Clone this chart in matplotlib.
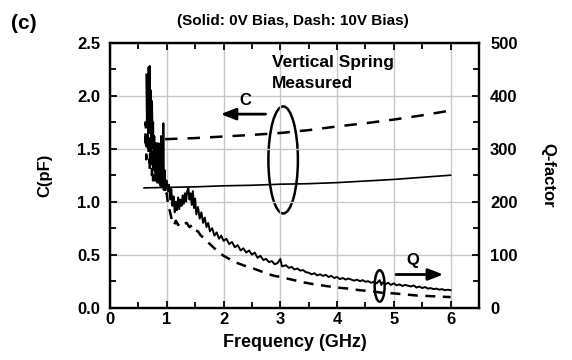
import numpy as np
import matplotlib.pyplot as plt
from matplotlib.patches import Ellipse

plt.rcParams['font.family'] = ['Liberation Sans', 'DejaVu Sans']
plt.rcParams['font.weight'] = 'bold'
plt.rcParams['axes.labelweight'] = 'bold'

# capacitance (left axis, pF)
freq_c0 = [0.6, 1.0, 1.5, 2.0, 2.5, 3.0, 3.5, 4.0, 4.5, 5.0, 5.5, 6.0]
c_0v = [1.13, 1.135, 1.14, 1.15, 1.155, 1.165, 1.17, 1.18, 1.195, 1.21, 1.23, 1.25]
freq_c10 = [0.97, 1.5, 2.0, 2.5, 3.0, 3.5, 4.0, 4.5, 5.0, 5.5, 6.0]
c_10v = [1.59, 1.60, 1.615, 1.63, 1.648, 1.675, 1.71, 1.74, 1.775, 1.815, 1.86]

# Q-factor (right axis)
freq_q0 = [0.64, 0.65, 0.66, 0.67, 0.68, 0.69, 0.70, 0.71, 0.72, 0.73,
           0.74, 0.75, 0.76, 0.77, 0.78, 0.79, 0.80, 0.81, 0.82, 0.83,
           0.84, 0.85, 0.86, 0.87, 0.88, 0.89, 0.90, 0.91, 0.92, 0.93,
           0.94, 0.95, 0.96, 0.98, 1.00, 1.02, 1.04, 1.06, 1.08, 1.10,
           1.12, 1.14, 1.16, 1.18, 1.20, 1.22, 1.24, 1.26, 1.28, 1.30,
           1.32, 1.34, 1.36, 1.38, 1.40, 1.42, 1.44, 1.46, 1.48, 1.50,
           1.52, 1.55, 1.58, 1.61, 1.64, 1.67, 1.70, 1.73, 1.76, 1.80,
           1.84, 1.88, 1.92, 1.96, 2.00, 2.05, 2.10, 2.15, 2.20, 2.25,
           2.30, 2.35, 2.40, 2.45, 2.50, 2.55, 2.60, 2.65, 2.70, 2.75,
           2.80, 2.85, 2.90, 2.95, 3.00, 3.03, 3.10, 3.15, 3.20, 3.25,
           3.30, 3.35, 3.40, 3.45, 3.50, 3.55, 3.60, 3.65, 3.70, 3.75,
           3.80, 3.85, 3.90, 3.95, 4.00, 4.05, 4.10, 4.15, 4.20, 4.30,
           4.35, 4.40, 4.45, 4.50, 4.55, 4.60, 4.65, 4.70, 4.75, 4.78,
           4.80, 4.85, 4.90, 4.95, 5.00, 5.05, 5.10, 5.15, 5.20, 5.30,
           5.35, 5.40, 5.45, 5.50, 5.55, 5.60, 5.65, 5.70, 5.75, 5.80,
           5.85, 5.90, 5.95, 6.00]
q_0v = [440, 350, 436, 360, 454, 340, 456, 370, 410, 310,
        390, 320, 350, 260, 324, 280, 310, 240, 284, 236,
        300, 250, 310, 240, 296, 230, 324, 240, 290, 228,
        348, 230, 260, 224, 240, 220, 232, 204, 224, 192,
        210, 180, 200, 184, 208, 186, 204, 192, 212, 196,
        216, 200, 220, 226, 204, 216, 194, 220, 188, 206,
        176, 190, 168, 180, 160, 170, 152, 160, 144, 150,
        136, 142, 130, 136, 126, 130, 120, 124, 114, 118,
        108, 112, 104, 108, 100, 104, 94, 98, 90, 92,
        86, 88, 82, 84, 92, 78, 80, 75, 77, 72,
        74, 70, 71, 67, 66, 63, 65, 61, 63, 60,
        62, 58, 60, 56, 58, 54, 56, 53, 55, 51,
        53, 50, 52, 49, 50, 47, 49, 46, 52, 43,
        48, 44, 47, 43, 46, 42, 44, 41, 43, 40,
        42, 38, 40, 37, 39, 36, 37, 35, 36, 34,
        35, 33, 34, 33]

freq_q10 = [0.62, 0.63, 0.64, 0.65, 0.66, 0.67, 0.68, 0.69, 0.70, 0.71,
            0.72, 0.73, 0.74, 0.75, 0.76, 0.77, 0.78, 0.79, 0.80, 0.81,
            0.82, 0.83, 0.84, 0.85, 0.86, 0.87, 0.88, 0.89, 0.90, 0.92,
            0.94, 0.96, 0.98, 1.00, 1.02, 1.05, 1.08, 1.10, 1.13, 1.16,
            1.20, 1.25, 1.30, 1.35, 1.40, 1.45, 1.50, 1.55, 1.60, 1.65,
            1.70, 1.80, 1.90, 2.00, 2.10, 2.20, 2.30, 2.40, 2.50, 2.60,
            2.70, 2.80, 2.90, 3.00, 3.20, 3.40, 3.60, 3.80, 4.00, 4.20,
            4.40, 4.60, 4.80, 5.00, 5.20, 5.40, 5.60, 5.80, 6.00]
q_10v = [310, 350, 280, 330, 300, 360, 290, 340, 260, 320,
         270, 350, 250, 310, 240, 290, 256, 300, 240, 280,
         244, 310, 250, 290, 236, 270, 240, 276, 230, 250,
         220, 230, 210, 216, 196, 184, 170, 160, 156, 164,
         156, 162, 158, 160, 152, 156, 146, 144, 136, 132,
         126, 116, 106, 98, 92, 86, 82, 78, 75, 71,
         67, 63, 60, 58, 53, 48, 44, 41, 38, 36,
         33, 31, 28, 27, 25, 23, 22, 21, 20]

fig = plt.figure(figsize=(5.72, 3.6), dpi=100)
ax = fig.add_axes([0.1923, 0.1453, 0.6451, 0.7361])
ax2 = ax.twinx()

ax.plot(freq_c0, c_0v, color='black', lw=1.2)
ax.plot(freq_c10, c_10v, color='black', lw=1.8, ls=(0, (5, 4)))
ax2.plot(freq_q0, q_0v, color='black', lw=1.4)
ax2.plot(freq_q10, q_10v, color='black', lw=1.8, ls=(0, (4, 3)))

ax.set_xlim(0, 6.5)
ax.set_ylim(0, 2.5)
ax2.set_ylim(0, 500)

ax.set_xticks(np.arange(0, 7, 1))
ax.set_xticks(np.arange(0, 6.6, 0.5), minor=True)
ax.set_yticks(np.arange(0, 2.6, 0.5))
ax.set_yticks(np.arange(0, 2.6, 0.25), minor=True)
ax.set_yticklabels(['0.0', '0.5', '1.0', '1.5', '2.0', '2.5'])
ax2.set_yticks(np.arange(0, 501, 100))
ax2.set_yticks(np.arange(0, 501, 50), minor=True)

ax.tick_params(which='both', direction='in', top=True, labelsize=12, width=1.3)
ax.tick_params(which='major', length=5)
ax.tick_params(which='minor', length=4)
ax.tick_params(axis='x', pad=3)
ax.tick_params(axis='y', pad=7)
ax2.tick_params(which='both', direction='in', labelsize=12, width=1.3, pad=8)
ax2.tick_params(which='major', length=5)
ax2.tick_params(which='minor', length=4)
ax.grid(True, which='major', color='#c8c8c8', lw=1)
for a in (ax, ax2):
    for s in a.spines.values():
        s.set_linewidth(1.6)

ax.set_xlabel('Frequency (GHz)', fontsize=13)
ax.xaxis.label.set_va('baseline')
ax.xaxis.set_label_coords(0.5, -0.149)
ax.set_ylabel('C(pF)', fontsize=12)
ax.yaxis.label.set_va('center')
ax.yaxis.set_label_coords(-0.176, 0.5)
ax2.set_ylabel('Q-factor', fontsize=12, rotation=270)
ax2.yaxis.label.set_va('center')
ax2.yaxis.set_label_coords(1.187, 0.5)

ax.add_patch(Ellipse((3.05, 1.394), 0.52, 1.01, fill=False, lw=1.8, color='black'))
ax.add_patch(Ellipse((4.75, 0.205), 0.176, 0.297, fill=False, lw=1.8, color='black'))

ax.annotate('', xy=(1.9, 1.826), xytext=(2.79, 1.826),
            arrowprops=dict(arrowstyle='-|>,head_length=0.9,head_width=0.35',
                            color='black', lw=2))
ax.annotate('', xy=(5.92, 0.313), xytext=(4.99, 0.313),
            arrowprops=dict(arrowstyle='-|>,head_length=0.9,head_width=0.35',
                            color='black', lw=2))
ax.text(2.39, 1.95, 'C', fontsize=12, ha='center', va='center')
ax.text(5.33, 0.447, 'Q', fontsize=12, ha='center', va='center')
ax.text(2.85, 2.268, 'Vertical Spring', fontsize=12.5, ha='left', va='baseline')
ax.text(2.85, 2.07, 'Measured', fontsize=12.5, ha='left', va='baseline')

fig.text(0.02, 0.936, '(c)', fontsize=15, ha='left', va='center')
fig.text(0.512, 0.943, '(Solid: 0V Bias, Dash: 10V Bias)', fontsize=11, ha='center', va='center')

fig.savefig('out.png', dpi=100)
